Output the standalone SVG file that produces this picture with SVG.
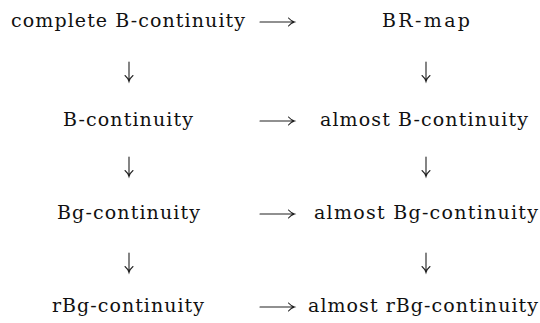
<svg xmlns="http://www.w3.org/2000/svg" width="540" height="323" viewBox="0 0 540 323">
<style>
text{font-family:"DejaVu Serif","Liberation Serif",serif;font-size:19px;fill:#111;text-anchor:middle}
.c path{fill:none;stroke:#222;stroke-width:1.1;stroke-linecap:round}
</style>
<rect width="540" height="323" fill="#fff"/>
<g id="n1"><text x="128" y="27" textLength="234">complete B-continuity</text></g>
<g id="n2"><text x="426" y="27" textLength="88">BR-map</text></g>
<g id="n3"><text x="128" y="126" textLength="130">B-continuity</text></g>
<g id="n4"><text x="424" y="126" textLength="208">almost B-continuity</text></g>
<g id="n5"><text x="128.5" y="219" textLength="143">Bg-continuity</text></g>
<g id="n6"><text x="426" y="219" textLength="224">almost Bg-continuity</text></g>
<g id="n7"><text x="128" y="312" textLength="152">rBg-continuity</text></g>
<g id="n8"><text x="423" y="312" textLength="230">almost rBg-continuity</text></g>
<g id="connectors" class="c">
<path d="M260 22H294M288.5 18Q291 21 294.5 22Q291 23 288.5 26"/>
<path d="M260 121H294M288.5 117Q291 120 294.5 121Q291 122 288.5 125"/>
<path d="M260 214H294M288.5 210Q291 213 294.5 214Q291 215 288.5 218"/>
<path d="M260 307H294M288.5 303Q291 306 294.5 307Q291 308 288.5 311"/>
<path d="M129 62V81M125 75.5Q128 78 129 81.5Q130 78 133 75.5"/>
<path d="M426 62V81M422 75.5Q425 78 426 81.5Q427 78 430 75.5"/>
<path d="M129 157V176M125 170.5Q128 173 129 176.5Q130 173 133 170.5"/>
<path d="M426 157V176M422 170.5Q425 173 426 176.5Q427 173 430 170.5"/>
<path d="M129 253V272M125 266.5Q128 269 129 272.5Q130 269 133 266.5"/>
<path d="M426 253V272M422 266.5Q425 269 426 272.5Q427 269 430 266.5"/>
</g>
</svg>
